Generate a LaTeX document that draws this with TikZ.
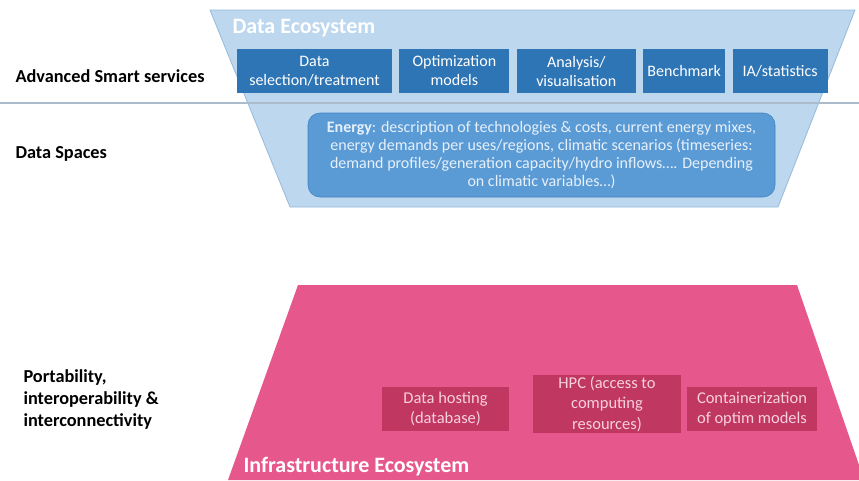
\documentclass[tikz,border=0pt]{standalone}
\usepackage{fontspec}
\setmainfont{Carlito}
\usetikzlibrary{positioning}

\definecolor{trapblue}{RGB}{189,215,238}
\definecolor{trapedge}{RGB}{150,186,218}
\definecolor{svcblue}{RGB}{46,117,182}
\definecolor{energyblue}{RGB}{91,155,213}
\definecolor{energytext}{RGB}{230,240,250}
\definecolor{infrapink}{RGB}{230,88,140}
\definecolor{boxpink}{RGB}{192,56,98}
\definecolor{pinktext}{RGB}{248,208,222}
\definecolor{sepgray}{RGB}{172,188,204}

\begin{document}
\begin{tikzpicture}[x=1pt,y=-1pt,node distance=7pt,font=\fontsize{16}{19}\selectfont]

	\tikzset{svc box/.style={rectangle, fill=svcblue,
			text=white, align=center,
			minimum height=44pt, inner sep=1pt}}
	\tikzset{infra box/.style={rectangle, fill=boxpink,
			text=pinktext, align=center,
			minimum height=44pt, inner sep=1pt,
			font=\fontsize{16.5}{20.5}\selectfont}}
	\tikzset{side label/.style={anchor=west, align=left,
			font=\fontsize{18.3}{22}\selectfont\bfseries}}
	\tikzset{eco title/.style={anchor=west, text=white,
			font=\fontsize{22}{24}\selectfont\bfseries}}

	\useasboundingbox (0,0) rectangle (859,480);

	% data ecosystem
	\fill[trapblue, draw=trapedge, line width=0.8pt]
	(210,10) -- (855,10) -- (778,207) -- (290,207) -- cycle;
	\draw[sepgray, line width=1.2pt] (0,103) -- (859,103);
	\node[eco title] (dataeco) at (229,28) {Data Ecosystem};

	\node[svc box, minimum width=155pt] (sel) at (314.5,71) {Data\\selection/treatment};
	\node[svc box, minimum width=110pt, right=of sel] (opt) {Optimization\\models};
	\node[svc box, minimum width=119pt, right=of opt] (ana) {Analysis/\\visualisation};
	\node[svc box, minimum width=82pt, right=of ana] (bench) {Benchmark};
	\node[svc box, minimum width=95pt, right=of bench] (ia) {IA/statistics};

	\node[rectangle, rounded corners=12pt, fill=energyblue,
	draw=svcblue!60!energyblue, line width=0.6pt,
	text=energytext, align=center,
	minimum width=467pt, minimum height=84pt, inner sep=2pt,
	font=\fontsize{16}{18.3}\selectfont] (energy) at (541.5,155)
	{\textbf{Energy}: description of technologies \& costs, current energy mixes,\\
		energy demands per uses/regions, climatic scenarios (timeseries:\\
		demand profiles/generation capacity/hydro inflows\dots. Depending\\
		on climatic variables\dots)};

	% infrastructure ecosystem
	\fill[infrapink]
	(298,285) -- (797,285) -- (859,465) -- (859,480) -- (228,480) -- cycle;
	\node[eco title] (infraeco) at (240,467) {Infrastructure Ecosystem};

	\node[infra box, minimum width=127pt] (host) at (445.5,409) {Data hosting\\(database)};
	\node[infra box, minimum width=148pt, minimum height=56pt] (hpc) at (607,404)
	{HPC (access to\\computing\\resources)};
	\node[infra box, minimum width=130pt] (cont) at (752,409) {Containerization\\of optim models};

	% layer names
	\node[side label] (smart) at (12,76) {Advanced Smart services};
	\node[side label] (spaces) at (12,154) {Data Spaces};
	\node[side label] (port) at (20,400) {Portability,\\interoperability \&\\interconnectivity};
\end{tikzpicture}
\end{document}
